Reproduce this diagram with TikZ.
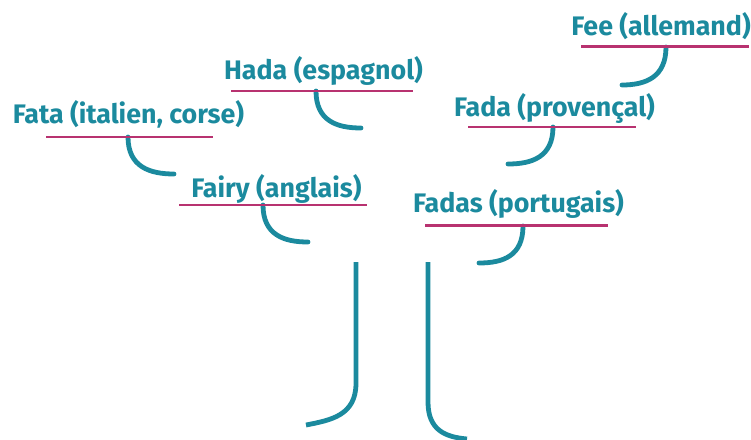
\documentclass[tikz,border=0pt]{standalone}
\usepackage{fontspec}
\setmainfont{Fira Sans}
\definecolor{petrol}{RGB}{27,138,158}
\definecolor{berry}{RGB}{184,50,112}

\begin{document}
\begin{tikzpicture}[x=1pt,y=-1pt,
  word/.style={anchor=base,inner sep=0pt,text=petrol,font=\fontsize{26.8}{30}\selectfont\bfseries},
  rule/.style={draw=berry,line width=2.5pt},
  sprig/.style={draw=petrol,line width=4.8pt,line cap=round},
  trunk/.style={draw=petrol,line width=4.8pt}]
\useasboundingbox (0,0) rectangle (751,439);
% words
\node[word] (fee) at (661,35) {Fee (allemand)};
\node[word] (fada) at (554.5,116) {Fada (provençal)};
\node[word] (fadas) at (518.5,212) {Fadas (portugais)};
\node[word] (hada) at (323.5,79) {Hada (espagnol)};
\node[word] (fata) at (128.5,123) {Fata (italien, corse)};
\node[word] (fairy) at (276.5,197) {Fairy (anglais)};
% tips of the sprigs
\coordinate (fee-end) at (622,85);
\coordinate (fada-end) at (508,164);
\coordinate (fadas-end) at (479,263);
\coordinate (hada-end) at (361,128);
\coordinate (fata-end) at (174,174);
\coordinate (fairy-end) at (308,242);
% sprigs
\draw[sprig] (666,47) .. controls +(0,30) and +(24,0) .. (fee-end);
\draw[sprig] (553,127) .. controls +(0,30) and +(24,0) .. (fada-end);
\draw[sprig] (523,226) .. controls +(0,30) and +(24,0) .. (fadas-end);
\draw[sprig] (316,91) .. controls +(0,30) and +(-24,0) .. (hada-end);
\draw[sprig] (128,137) .. controls +(0,30) and +(-24,0) .. (fata-end);
\draw[sprig] (263,205) .. controls +(0,30) and +(-24,0) .. (fairy-end);
% underlines
\draw[rule] (581,46.5) -- (749,46.5);
\draw[rule] (468,127) -- (636,127);
\draw[rule] (425,225.5) -- (608,225.5);
\draw[rule] (231,91) -- (413,91);
\draw[rule] (46,137) -- (213,137);
\draw[rule] (179,205) -- (367,205);
% trunk
\coordinate (left-root) at (306,425);
\coordinate (right-root) at (467,439);
\draw[trunk] (356,262) -- (356,383) .. controls +(0,32) and +(26,-5) .. (left-root);
\draw[trunk] (428,262) -- (428,402) .. controls +(0,28) and +(-22,-2) .. (right-root);
\end{tikzpicture}
\end{document}
